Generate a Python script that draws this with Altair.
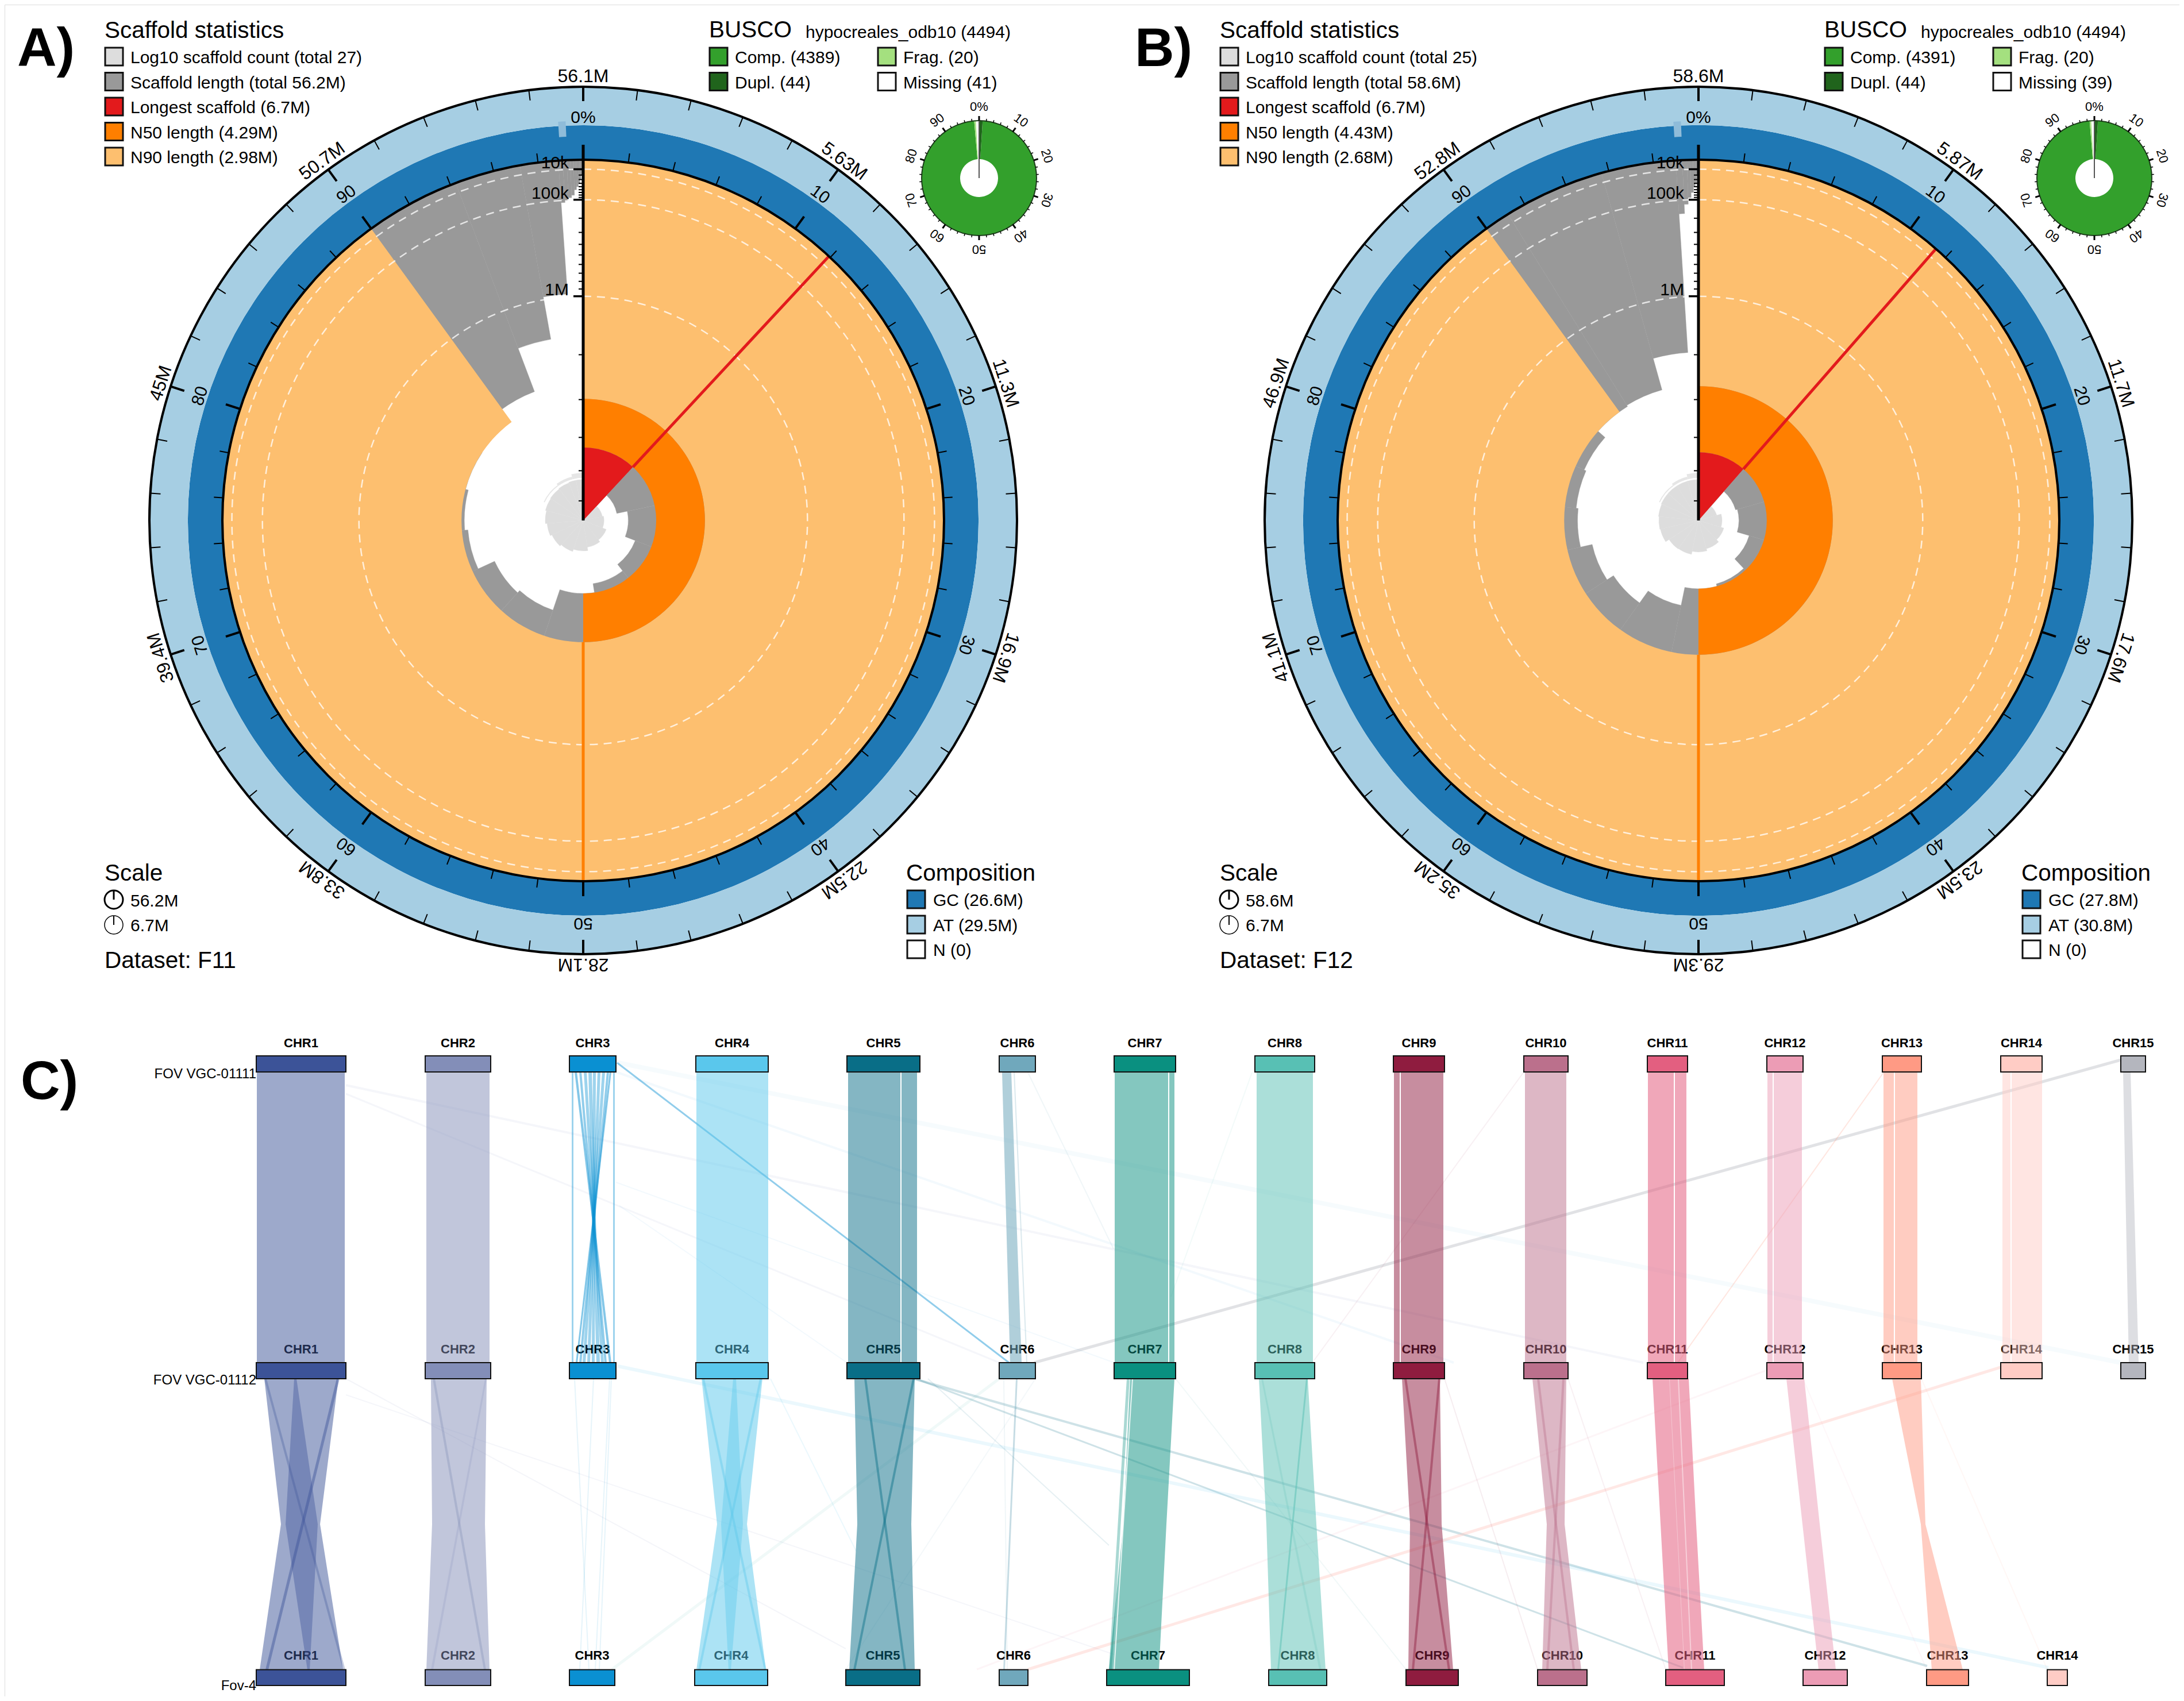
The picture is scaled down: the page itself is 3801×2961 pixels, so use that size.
import altair as alt
import numpy as np
import pandas as pd

# ---------- snail plot values ----------
A_LENGTHS = [6.7, 5.5, 5.15, 4.81, 4.56, 4.29, 3.68, 3.6, 3.13, 3.05, 2.98, 2.92, 2.6, 1.65, 0.96,
             0.11, 0.1, 0.09, 0.08, 0.06, 0.05, 0.04, 0.03, 0.02, 0.02, 0.01, 0.01]
B_LENGTHS = [6.7, 5.36, 5.3, 4.9, 4.5, 4.43, 3.9, 3.5, 3.3, 3.0, 2.95, 2.9, 2.68, 2.65, 1.95,
             0.17, 0.12, 0.09, 0.07, 0.05, 0.04, 0.02, 0.01, 0.01, 0.01]
A_LOGCOUNT = [0.14, 0.265, 0.30, 0.424, 0.507, 0.645, 0.746, 0.826, 0.911, 1.0, 1.06, 1.09, 1.125, 1.157, 1.157,
              1.157, 1.157, 1.157, 1.157, 1.157, 1.157, 1.157, 1.157, 1.157, 1.157, 1.157, 1.157]
B_LOGCOUNT = [0.14, 0.25, 0.385, 0.485, 0.60, 0.69, 0.83, 0.85, 1.06, 1.09, 1.12, 1.15, 1.157, 1.157, 1.157,
              1.157, 1.157, 1.157, 1.157, 1.157, 1.157, 1.157, 1.157, 1.157, 1.157]
BAND_START = [82, 90, 96]
BAND_END = [90, 96, 100]
BAND_LOW = [1.26, 1.26, 1.26]
BAND_HIGH = [1.32, 1.42, 1.58]
GC_SHARE = {"A": 47.3, "B": 47.4}
A_OUTER = ["56.1M", "5.63M", "11.3M", "16.9M", "22.5M", "28.1M", "33.8M", "39.4M", "45M", "50.7M"]
B_OUTER = ["58.6M", "5.87M", "11.7M", "17.6M", "23.5M", "29.3M", "35.2M", "41.1M", "46.9M", "52.8M"]
PCT_LABELS = ["0%", "10", "20", "30", "40", "50", "60", "70", "80", "90"]
A_SCAFFOLD = ["Log10 scaffold count (total 27)", "Scaffold length (total 56.2M)", "Longest scaffold (6.7M)",
              "N50 length (4.29M)", "N90 length (2.98M)"]
B_SCAFFOLD = ["Log10 scaffold count (total 25)", "Scaffold length (total 58.6M)", "Longest scaffold (6.7M)",
              "N50 length (4.43M)", "N90 length (2.68M)"]
SCAFFOLD_COLORS = ["#dddddd", "#999999", "#e31a1c", "#ff7f00", "#fdbf6f"]
A_BUSCO = [4345, 44, 20, 41]
B_BUSCO = [4347, 44, 20, 39]
A_BUSCO_TEXT = ["Comp. (4389)", "Dupl. (44)", "Frag. (20)", "Missing (41)"]
B_BUSCO_TEXT = ["Comp. (4391)", "Dupl. (44)", "Frag. (20)", "Missing (39)"]
BUSCO_COLORS = ["#33a02c", "#20641c", "#a4e07f", "#ffffff"]
A_SCALE = ["56.2M", "6.7M"]
B_SCALE = ["58.6M", "6.7M"]
A_COMP = ["GC (26.6M)", "AT (29.5M)", "N (0)"]
B_COMP = ["GC (27.8M)", "AT (30.8M)", "N (0)"]
COMP_COLORS = ["#1f78b4", "#a6cee3", "#ffffff"]

# ---------- synteny values ----------
CHR_NAMES = ["CHR%d" % i for i in range(1, 16)]
CHR_COLORS = ["#3c5398", "#838eb8", "#0a90d2", "#5ac7ec", "#096e87", "#70a8bc", "#0a9080", "#58c0b4",
              "#8f1c3f", "#bb708c", "#e35f80", "#ec9cb5", "#ff9a84", "#ffccc5", "#b4b6be"]
TOP_START = [446, 740, 991, 1211, 1474, 1739, 1939, 2184, 2425, 2652, 2867, 3075, 3276, 3482, 3691]
TOP_END = [602, 854, 1072, 1337, 1601, 1802, 2046, 2288, 2514, 2729, 2937, 3138, 3344, 3554, 3734]
BOT_START = [446, 740, 991, 1209, 1472, 1739, 1926, 2208, 2447, 2676, 2899, 3138, 3353, 3563]
BOT_END = [602, 854, 1070, 1336, 1601, 1789, 2070, 2309, 2538, 2762, 3001, 3215, 3426, 3598]
ROW_TOP = [1838, 2372, 2906.5]
ROW_BOTTOM = [1866, 2400, 2934]
ROW_NAMES = ["FOV VGC-01111", "FOV VGC-01112", "Fov-4"]
ROW_BASE = [1877, 2410, 2942]
LABEL_BASE = [1823, 2355.5, 2889]

# chromosome, top-left, top-right, bottom-left, bottom-right, opacity
UPPER_BLOCKS = [
    (1, 447, 600, 447, 600, .5), (2, 742, 852, 742, 852, .5), (4, 1212, 1337, 1212, 1337, .5),
    (3, 995, 998, 995, 998, .4), (3, 1067, 1070, 1067, 1070, .4),
    (3, 1000, 1004, 1060, 1064, .5), (3, 1008, 1012, 1052, 1056, .45), (3, 1016, 1021, 1046, 1051, .4),
    (3, 1024, 1030, 1038, 1044, .4), (3, 1032, 1037, 1030, 1035, .4), (3, 1040, 1045, 1022, 1027, .4),
    (3, 1048, 1053, 1014, 1019, .4), (3, 1056, 1060, 1008, 1012, .45), (3, 1061, 1064, 1002, 1005, .5),
    (5, 1476, 1567, 1476, 1567, .5), (5, 1569, 1596, 1569, 1596, .5),
    (6, 1744, 1760, 1758, 1778, .55), (6, 1764, 1766, 1786, 1788, .25),
    (7, 1940, 2033, 1940, 2033, .5), (7, 2035, 2044, 2035, 2044, .5),
    (8, 2187, 2285, 2187, 2285, .5), (9, 2426, 2436, 2426, 2436, .5), (9, 2438, 2512, 2438, 2512, .5),
    (10, 2654, 2726, 2654, 2726, .5), (11, 2868, 2913, 2868, 2913, .55), (11, 2915, 2935, 2915, 2935, .55),
    (12, 3076, 3085, 3076, 3085, .5), (12, 3087, 3136, 3087, 3136, .5),
    (13, 3278, 3296, 3278, 3296, .5), (13, 3298, 3337, 3298, 3337, .5),
    (14, 3485, 3499, 3485, 3499, .5), (14, 3501, 3554, 3501, 3554, .5),
    (15, 3695, 3708, 3705, 3722, .45),
]
# chromosome, left/right at mid row, at half way, at bottom row, opacity
LOWER_WAISTS = [
    (1, 460, 589, 489, 557, 452, 597, .5), (1, 512, 516, 497, 553, 535, 539, .4),
    (2, 750, 847, 752, 844, 742, 852, .5),
    (4, 1221, 1327, 1248, 1300, 1212, 1333, .5), (4, 1276, 1281, 1255, 1293, 1268, 1272, .4),
    (5, 1487, 1592, 1492, 1586, 1478, 1592, .5),
    (7, 1967, 2044, 1955, 2030, 1930, 2017, .5),
    (8, 2191, 2276, 2204, 2291, 2212, 2307, .5),
    (9, 2440, 2506, 2454, 2509, 2451, 2529, .5),
    (10, 2667, 2726, 2692, 2723, 2684, 2752, .5),
    (11, 2876, 2939, 2890, 2952, 2904, 2966, .55),
    (12, 3109, 3140, 3137, 3167, 3165, 3195, .5),
    (13, 3293, 3343, 3343, 3351, 3362, 3416, .5),
]
LOWER_BLOCKS = [
    (1, 460, 464, 597, 601, .3), (1, 586, 591, 462, 467, .45),
    (2, 753, 757, 842, 846, .35), (2, 844, 847, 750, 754, .2),
    (3, 999, 1001, 1024, 1026, .1), (3, 1032, 1034, 1008, 1010, .1),
    (3, 1063, 1065, 1042, 1044, .1), (3, 1060, 1062, 1035, 1037, .1),
    (4, 1222, 1226, 1330, 1334, .4), (4, 1322, 1326, 1215, 1219, .4),
    (5, 1504, 1508, 1573, 1577, .45), (5, 1588, 1592, 1485, 1489, .45),
    (6, 1768, 1771, 1746, 1749, .4), (6, 1746, 1748, 1752, 1754, .1),
    (7, 1961, 1966, 1930, 1935, .35),
    (8, 2273, 2276, 2223, 2226, .5), (8, 2195, 2198, 2296, 2300, .2),
    (9, 2444, 2448, 2520, 2524, .45), (9, 2503, 2507, 2457, 2461, .45),
    (10, 2675, 2679, 2737, 2741, .4), (10, 2719, 2723, 2691, 2695, .4),
]
# white slits on the lower ribbons
LOWER_SLITS = [(7, 1970, 1972, 1938, 1940, .8), (11, 2920, 2922, 2943, 2945, .45), (11, 2905, 2906, 2931, 2932, .35)]
# chromosome colour, x1, y1, x2, y2, line width, opacity
CROSS_LINKS = [
    (15, 3691, 1845, 1800, 2372, 5, .4), (3, 1074, 1850, 1756, 2372, 3, .45),
    (3, 1076, 1850, 3691, 2372, 8, .035), (3, 1072, 1866, 2530, 2372, 4, .05),
    (1, 602, 1889, 2860, 2372, 4, .05), (1, 602, 1904, 1739, 2372, 3, .05),
    (3, 1072, 2058, 1939, 2372, 2, .05), (3, 1078, 2099, 1474, 2372, 2, .05),
    (10, 2652, 1866, 2287, 2368, 2, .1), (8, 2179, 1867, 2038, 2257, 2, .08),
    (6, 1789, 1867, 1938, 2174, 2, .1), (13, 3278, 1867, 2920, 2372, 2, .25),
    (5, 1590, 2400, 3354, 2900, 4, .2), (5, 1594, 2400, 2929, 2903, 3, .2),
    (4, 1075, 2378, 3565, 2903, 6, .12), (8, 1065, 2906, 1739, 2400, 5, .09),
    (14, 3482, 2380, 1789, 2906, 5, .45), (12, 3075, 2385, 1700, 2906, 3, .1),
    (1, 602, 2400, 1472, 2870, 2, .06), (1, 602, 2428, 1939, 2880, 2, .05),
    (4, 1341, 2400, 1490, 2700, 2, .12), (5, 1615, 2400, 1930, 2690, 2, .1),
    (9, 2514, 2400, 2676, 2906, 2, .08), (10, 2729, 2400, 2899, 2906, 2, .1),
    (12, 3138, 2400, 3353, 2906, 2, .08), (13, 3344, 2400, 3563, 2906, 2, .08),
    (7, 2046, 2400, 2447, 2906, 2, .06), (6, 1802, 2400, 1472, 2906, 2, .08),
]

# ---------- shared scales ----------
XS = alt.Scale(domain=[8, 3793], nice=False, zero=False)
YS = alt.Scale(domain=[2953, 8], nice=False, zero=False)
TS = alt.Scale(domain=[0, 100], range=[0, 2 * np.pi])
LEN_SCALE = alt.Scale(type="sqrt", domain=[0, 6.7], range=[636, 0])
COUNT_SCALE = alt.Scale(type="sqrt", domain=[0, 1.43], range=[0, 79])
RING_SCALE = alt.Scale(domain=[0, 100], range=[628, 755])
BUSCO_SCALE = alt.Scale(domain=[0, 100], range=[0, 100])
FONT = "Liberation Sans"


def X(f="x"):
    return alt.X(f + ":Q", scale=XS, axis=None)


def Y(f="y"):
    return alt.Y(f + ":Q", scale=YS, axis=None)


def len_radius(L):
    return 636 * (1 - np.sqrt(L / 6.7))


def polar(cx, cy, pct, r):
    a = np.radians(pct * 3.6)
    return cx + r * np.sin(a), cy - r * np.cos(a)


def arcs(rows, rscale, **mk):
    df = pd.DataFrame(rows, columns=["cx", "cy", "t0", "t1", "r0", "r1", "c"])
    return alt.Chart(df).mark_arc(**mk).encode(
        x=X("cx"), y=Y("cy"),
        theta=alt.Theta("t0:Q", scale=TS), theta2=alt.Theta2("t1:Q"),
        radius=alt.Radius("r0:Q", scale=rscale), radius2=alt.Radius2("r1:Q"),
        color=alt.Color("c:N", scale=None),
    )


def rules(rows, width, color):
    df = pd.DataFrame(rows, columns=["x", "y", "x2", "y2"])
    return alt.Chart(df).mark_rule(strokeWidth=width, color=color).encode(
        x=X("x"), y=Y("y"), x2=alt.X2("x2:Q"), y2=alt.Y2("y2:Q"))


def texts(rows, size, align="left", weight="normal", baseline="alphabetic", color="#000000"):
    df = pd.DataFrame(rows, columns=["x", "y", "t", "angle"])
    return alt.Chart(df).mark_text(fontSize=size, align=align, baseline=baseline, fontWeight=weight,
                                   font=FONT, color=color).encode(
        x=X("x"), y=Y("y"), text=alt.Text("t:N"), angle=alt.Angle("angle:Q", scale=None))


def swatches(rows, width=3):
    df = pd.DataFrame(rows, columns=["x", "y", "x2", "y2", "c"])
    return alt.Chart(df).mark_rect(stroke="#111111", strokeWidth=width).encode(
        x=X("x"), y=Y("y"), x2=alt.X2("x2:Q"), y2=alt.Y2("y2:Q"), fill=alt.Fill("c:N", scale=None))


def circle(cx, cy, r, width, **mk):
    df = pd.DataFrame({"cx": [cx], "cy": [cy], "t0": [0], "t1": [100], "r": [r]})
    return alt.Chart(df).mark_arc(filled=False, strokeWidth=width, **mk).encode(
        x=X("cx"), y=Y("cy"),
        theta=alt.Theta("t0:Q", scale=TS), theta2=alt.Theta2("t1:Q"),
        radius=alt.Radius("r:Q", scale=alt.Scale(domain=[0, 800], range=[0, 800])))


def snail(key, dx, lengths, logcount, outer, scaffold_txt, busco, busco_txt, scale_txt, comp_txt, n50, n90,
          longest, dataset, panel):
    cx, cy = 1015 + dx, 906
    L = np.array(lengths)
    cum = np.concatenate([[0], np.cumsum(L)]) / L.sum() * 100
    out = []
    out.append(arcs([(cx, cy, cum[i], cum[i + 1], L[i], 0, "#999999") for i in range(len(L))], LEN_SCALE,
                    stroke="#999999", strokeWidth=0.4))
    out.append(arcs([(cx, cy, 0, 90, n90, 0, "#fdbf6f")], LEN_SCALE))
    out.append(arcs([(cx, cy, 0, 50, n50, n90, "#ff7f00")], LEN_SCALE))
    out.append(arcs([(cx, cy, cum[i], cum[i + 1], logcount[i], 0, "#dddddd") for i in range(len(L))], COUNT_SCALE,
                    stroke="#dddddd", strokeWidth=0.4))
    out.append(arcs([(cx, cy, s, e, lo, hi, "#e6e6e6")
                     for s, e, lo, hi in zip(BAND_START, BAND_END, BAND_LOW, BAND_HIGH)], COUNT_SCALE))
    out.append(arcs([(cx, cy, 0, cum[1], longest, n50, "#e31a1c")], LEN_SCALE))
    for m in [1, 0.1, 0.01]:
        out.append(circle(cx, cy, len_radius(m), 2.5, stroke="#ffffff", strokeDash=[14, 10], opacity=0.75))
    r50 = len_radius(n90)
    out.append(rules([(*polar(cx, cy, 50, r50), *polar(cx, cy, 50, 630))], 5, "#ff7f00"))
    out.append(rules([(*polar(cx, cy, cum[1], len_radius(n50)), *polar(cx, cy, cum[1], 630))], 5, "#e31a1c"))
    gc = GC_SHARE[key]
    out.append(arcs([(cx, cy, 0, 100, 0, gc, "#1f78b4"), (cx, cy, 0, 100, gc, 100, "#a6cee3"),
                     (cx, cy, 99.0, 99.3, 32, 53, "#8fbcd9"),
                     (cx, cy, 0, 100, -1.6, 1.6, "#000000"), (cx, cy, 0, 100, 98.4, 101.6, "#000000")], RING_SCALE))
    majors = list(range(0, 100, 10))
    minors = [p for p in range(0, 100, 2) if p % 10]
    out.append(rules([(*polar(cx, cy, p, 628), *polar(cx, cy, p, 644)) for p in minors], 2, "#000000"))
    out.append(rules([(*polar(cx, cy, p, 755), *polar(cx, cy, p, 737)) for p in minors], 2, "#000000"))
    out.append(rules([(*polar(cx, cy, p, 628), *polar(cx, cy, p, 654)) for p in majors], 4, "#000000"))
    out.append(rules([(*polar(cx, cy, p, 755), *polar(cx, cy, p, 730)) for p in majors], 4, "#000000"))
    out.append(rules([(cx, cy, cx, cy - 654)], 5, "#000000"))
    small = [6, 5, 4, 3, 2, .9, .8, .7, .6, .5, .4, .3, .2, .09, .08, .07, .06, .05, .04, .03, .02]
    out.append(rules([(cx - 8, cy - len_radius(m), cx, cy - len_radius(m)) for m in small], 2, "#000000"))
    out.append(rules([(cx - 17, cy - len_radius(m), cx, cy - len_radius(m)) for m in [1, .1, .01]], 3.5, "#000000"))
    out.append(texts([(cx - 25, cy - len_radius(m) - 2, t, 0) for m, t in [(1, "1M"), (.1, "100k"), (.01, "10k")]], 30,
                     align="right"))
    out.append(texts([(*polar(cx, cy, p, 763), t, p * 3.6) for p, t in zip(majors, outer)], 32, align="center"))
    out.append(texts([(*polar(cx, cy, p, 692), t, p * 3.6) for p, t in zip(majors, PCT_LABELS)], 30, align="center"))

    # scaffold legend
    out.append(texts([(182 + dx, 66, "Scaffold statistics", 0), (182 + dx, 1533, "Scale", 0),
                      (182 + dx, 1685, dataset, 0), (1234 + dx, 65, "BUSCO", 0),
                      (1577 + dx, 1533, "Composition", 0)], 40.5))
    ys = [83, 126.5, 170, 213.5, 257]
    out.append(swatches([(183 + dx, y, 214 + dx, y + 31, c) for y, c in zip(ys, SCAFFOLD_COLORS)]))
    out.append(texts([(227 + dx, y + 27, t, 0) for y, t in zip(ys, scaffold_txt)], 30))

    # scale legend
    out.append(circle(198 + dx, 1566, 16, 3, stroke="#000000"))
    out.append(circle(198 + dx, 1610, 16, 1.5, stroke="#000000"))
    out.append(rules([(198 + dx, 1566, 198 + dx, 1550)], 3, "#000000"))
    out.append(rules([(198 + dx, 1610, 198 + dx, 1594)], 2, "#000000"))
    out.append(texts([(227 + dx, 1578, scale_txt[0], 0), (227 + dx, 1621, scale_txt[1], 0)], 30))

    # composition legend
    cy_rows = [1550, 1594, 1637]
    out.append(swatches([(1579 + dx, y, 1610 + dx, y + 31, c) for y, c in zip(cy_rows, COMP_COLORS)]))
    out.append(texts([(1624 + dx, y + 27, t, 0) for y, t in zip(cy_rows, comp_txt)], 30))

    # BUSCO legend
    out.append(texts([(1402 + dx, 66, "hypocreales_odb10 (4494)", 0)], 30))
    bx = [1235 + dx, 1235 + dx, 1528 + dx, 1528 + dx]
    by = [83, 126.5, 83, 126.5]
    out.append(swatches([(x, y, x + 31, y + 31, c) for x, y, c in zip(bx, by, BUSCO_COLORS)]))
    out.append(texts([(x + 44, y + 27, t, 0) for x, y, t in zip(bx, by, busco_txt)], 30))

    # BUSCO donut
    bcx, bcy = 1704 + dx, 310
    total = sum(busco)
    dup = busco[1] / total * 100
    comp_end = dup + busco[0] / total * 100
    frag_end = comp_end + busco[2] / total * 100
    out.append(arcs([(bcx, bcy, dup, comp_end, 100, 33, "#33a02c"), (bcx, bcy, 0, dup, 100, 33, "#20641c"),
                     (bcx, bcy, comp_end, frag_end, 100, 33, "#a4e07f"),
                     (bcx, bcy, 0, 100, 99, 101, "#1c3f1a")], BUSCO_SCALE))
    out.append(rules([(bcx, bcy, bcx, bcy - 100)], 2, "#555555"))
    out.append(rules([(*polar(bcx, bcy, p, 100), *polar(bcx, bcy, p, 104)) for p in minors], 1.5, "#000000"))
    out.append(rules([(*polar(bcx, bcy, p, 100), *polar(bcx, bcy, p, 108)) for p in majors], 3, "#000000"))
    out.append(texts([(*polar(bcx, bcy, p, 117), t, p * 3.6) for p, t in zip(majors, PCT_LABELS)], 22, align="center"))
    return out


layers = []
layers += snail("A", 0, A_LENGTHS, A_LOGCOUNT, A_OUTER, A_SCAFFOLD, A_BUSCO, A_BUSCO_TEXT, A_SCALE, A_COMP,
                4.29, 2.98, 6.7, "Dataset: F11", "A)")
layers += snail("B", 1941, B_LENGTHS, B_LOGCOUNT, B_OUTER, B_SCAFFOLD, B_BUSCO, B_BUSCO_TEXT, B_SCALE, B_COMP,
                4.43, 2.68, 6.7, "Dataset: F12", "B)")

# panel letters
layers.append(texts([(30, 115, "A)", 0), (1975, 115, "B)", 0), (36, 1913, "C)", 0)], 95, weight="bold"))

# ---------- synteny panel ----------
label_rows = []
for row, base in enumerate(LABEL_BASE):
    starts, ends = (BOT_START, BOT_END) if row == 2 else (TOP_START, TOP_END)
    for name, s, e in zip(CHR_NAMES, starts, ends):
        label_rows.append(((s + e) / 2, base, name, 0))
layers.append(texts(label_rows, 22, align="center", weight="bold"))
layers.append(texts([(446, b, n, 0) for n, b in zip(ROW_NAMES, ROW_BASE)], 24, align="right"))


def chr_color(i):
    return CHR_COLORS[i - 1]


link_df = pd.DataFrame(CROSS_LINKS, columns=["chr", "x", "y", "x2", "y2", "w", "a"])
link_df["c"] = link_df["chr"].map(chr_color)
layers.append(alt.Chart(link_df).mark_rule().encode(
    x=X("x"), y=Y("y"), x2=alt.X2("x2:Q"), y2=alt.Y2("y2:Q"),
    color=alt.Color("c:N", scale=None), opacity=alt.Opacity("a:Q", scale=None),
    strokeWidth=alt.StrokeWidth("w:Q", scale=None)))


def ribbons(rows, fixed=None):
    df = pd.DataFrame(rows, columns=["id", "y", "l", "r", "c", "a"])
    return alt.Chart(df).mark_area(orient="horizontal").encode(
        x=X("l"), x2=alt.X2("r:Q"), y=Y("y"), detail="id:N",
        color=alt.Color("c:N", scale=None), opacity=alt.Opacity("a:Q", scale=None))


y_up0, y_up1 = ROW_BOTTOM[0], ROW_TOP[1]
y_lo0, y_lo1 = ROW_BOTTOM[1], ROW_TOP[2]
rows = []
for k, (ch, a, b, c, d, op) in enumerate(UPPER_BLOCKS):
    rows += [("u%d" % k, y_up0, a, b, chr_color(ch), op), ("u%d" % k, y_up1, c, d, chr_color(ch), op)]
layers.append(ribbons(rows))
rows = []
for k, (ch, a, b, c, d, e, f, op) in enumerate(LOWER_WAISTS):
    rows += [("w%d" % k, y_lo0, a, b, chr_color(ch), op),
             ("w%d" % k, (y_lo0 + y_lo1) / 2, c, d, chr_color(ch), op),
             ("w%d" % k, y_lo1, e, f, chr_color(ch), op)]
layers.append(ribbons(rows))
rows = []
for k, (ch, a, b, c, d, op) in enumerate(LOWER_BLOCKS):
    rows += [("b%d" % k, y_lo0, a, b, chr_color(ch), op), ("b%d" % k, y_lo1, c, d, chr_color(ch), op)]
for k, (ch, a, b, c, d, op) in enumerate(LOWER_SLITS):
    rows += [("s%d" % k, y_lo0, a, b, "#ffffff", op), ("s%d" % k, y_lo1, c, d, "#ffffff", op)]
layers.append(ribbons(rows))

rects = []
for row in range(3):
    starts, ends = (BOT_START, BOT_END) if row == 2 else (TOP_START, TOP_END)
    for i, (s, e) in enumerate(zip(starts, ends)):
        rects.append((s, ROW_TOP[row], e, ROW_BOTTOM[row], CHR_COLORS[i]))
layers.append(swatches(rects, width=2))

chart = alt.layer(*layers).resolve_scale(radius="independent").properties(
    width=3785, height=2945, padding=0,
    autosize=alt.AutoSizeParams(type="none"),
).configure_view(stroke=None, strokeWidth=0).configure(background="#ffffff")

chart.save("out.html", embed_options={"renderer": "svg", "actions": False})
